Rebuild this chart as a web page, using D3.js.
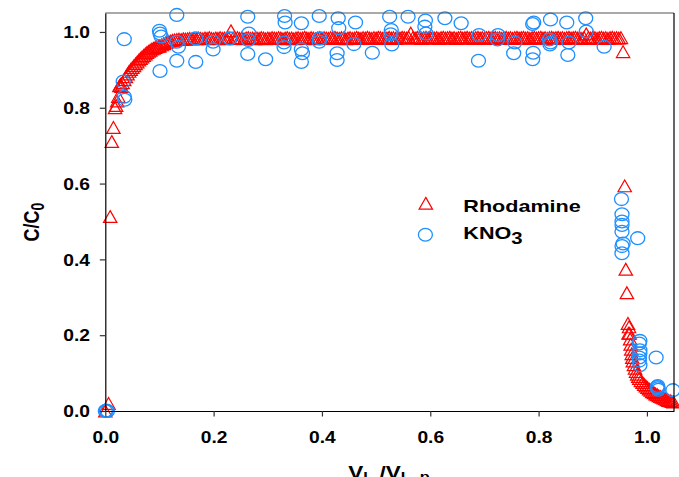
<!DOCTYPE html>
<html>
<head>
<meta charset="utf-8">
<script src="https://cdn.jsdelivr.net/npm/d3@7/dist/d3.min.js"></script>
<style>
  html, body { margin: 0; padding: 0; background: #fff; }
  svg { display: block; }
  text { font-family: "Liberation Sans", Arial, sans-serif; font-weight: bold; fill: #000; }
</style>
</head>
<body>
<svg id="chart" width="679" height="477"></svg>
<script>
// Axis ranges and ticks
const xDomain = [0, 1.05];
const yDomain = [0, 1.05];
const xTicks = [0, 0.2, 0.4, 0.6, 0.8, 1.0];
const yTicks = [0, 0.2, 0.4, 0.6, 0.8, 1.0];

// Series labels
const seriesNames = ["Rhodamine", "KNO3"];

// Rhodamine breakthrough: [V/Vp, C/C0]
const rhodamine = [
  [0.000,0.000],[0.006,0.020],[0.009,0.513],[0.012,0.711],[0.015,0.748],[0.018,0.800],
  [0.020,0.806],[0.022,0.818],[0.024,0.830],[0.026,0.858],[0.028,0.862],[0.030,0.856],
  [0.032,0.866],[0.035,0.874],[0.038,0.882],[0.041,0.889],[0.044,0.896],[0.047,0.901],
  [0.050,0.906],[0.053,0.911],[0.056,0.916],[0.059,0.921],[0.062,0.926],[0.065,0.930],
  [0.068,0.934],[0.071,0.938],[0.074,0.942],[0.077,0.946],[0.080,0.949],[0.083,0.952],
  [0.086,0.955],[0.089,0.957],[0.092,0.959],[0.095,0.961],[0.098,0.962],
  [0.100,0.963],[0.104,0.966],[0.108,0.969],[0.112,0.972],[0.116,0.974],[0.120,0.976],
  [0.124,0.978],[0.128,0.979],[0.132,0.980],[0.136,0.981],[0.140,0.980],[0.144,0.982],[0.148,0.981],[0.152,0.982],[0.156,0.983],[0.160,0.982],
  [0.164,0.983],[0.168,0.982],[0.172,0.984],[0.176,0.983],[0.180,0.982],[0.184,0.984],[0.188,0.983],[0.192,0.985],[0.196,0.983],[0.200,0.982],
  [0.204,0.984],[0.208,0.983],[0.212,0.985],[0.216,0.983],[0.220,0.984],[0.224,0.982],[0.228,0.984],[0.232,1.003],[0.236,0.984],[0.240,0.983],
  [0.244,0.985],[0.248,0.983],[0.252,0.984],[0.256,0.982],[0.260,0.984],[0.264,0.985],[0.268,0.983],[0.272,0.984],[0.276,0.982],[0.280,0.984],
  [0.284,0.983],[0.288,0.985],[0.292,0.984],[0.296,0.982],[0.300,0.984],[0.304,0.983],[0.308,0.985],[0.312,0.984],[0.316,0.983],[0.320,0.985],
  [0.324,0.984],[0.328,0.982],[0.332,0.984],[0.336,0.985],[0.340,0.983],[0.344,0.984],[0.348,0.982],[0.352,0.984],[0.356,0.985],[0.360,0.983],
  [0.364,0.984],[0.368,0.986],[0.372,0.984],[0.376,0.983],[0.380,0.985],[0.384,0.984],[0.388,0.982],[0.392,0.984],[0.396,0.985],[0.400,0.983],
  [0.404,0.985],[0.408,0.984],[0.412,0.983],[0.416,0.985],[0.420,0.984],[0.424,0.986],[0.428,0.984],[0.432,0.983],[0.436,0.985],[0.440,0.984],
  [0.444,0.982],[0.448,0.984],[0.452,0.985],[0.456,0.983],[0.460,0.984],[0.464,0.986],[0.468,0.984],[0.472,0.983],[0.476,0.985],[0.480,0.984],
  [0.484,0.986],[0.488,0.984],[0.492,0.983],[0.496,0.985],[0.500,0.984],[0.504,0.986],[0.508,0.985],[0.512,0.983],[0.516,0.985],[0.520,0.984],
  [0.524,0.986],[0.528,0.984],[0.532,0.985],[0.536,0.983],[0.540,0.985],[0.544,0.984],[0.548,0.986],[0.552,0.985],[0.556,0.984],[0.560,0.986],
  [0.564,0.997],[0.568,0.985],[0.572,0.984],[0.576,0.986],[0.580,0.985],[0.584,0.983],[0.588,0.985],[0.592,0.986],[0.596,0.984],[0.600,0.985],
  [0.604,0.986],[0.608,0.984],[0.612,0.985],[0.616,0.983],[0.620,0.985],[0.624,0.986],[0.628,0.984],[0.632,0.985],[0.636,0.986],[0.640,0.984],
  [0.644,0.985],[0.648,0.983],[0.652,0.985],[0.656,0.986],[0.660,0.984],[0.664,0.985],[0.668,0.986],[0.672,0.984],[0.676,0.985],[0.680,0.983],
  [0.684,0.985],[0.688,0.986],[0.692,0.984],[0.696,0.985],[0.700,0.983],[0.704,0.985],[0.708,0.986],[0.712,0.984],[0.716,0.985],[0.720,0.986],
  [0.724,0.984],[0.728,0.985],[0.732,0.983],[0.736,0.985],[0.740,0.986],[0.744,0.984],[0.748,0.985],[0.752,0.983],[0.756,0.985],[0.760,0.986],
  [0.764,0.984],[0.768,0.985],[0.772,0.986],[0.776,0.984],[0.780,0.985],[0.784,0.983],[0.788,0.985],[0.792,0.986],[0.796,0.984],[0.800,0.985],
  [0.804,0.986],[0.808,0.984],[0.812,0.985],[0.816,0.983],[0.820,0.985],[0.824,0.986],[0.828,0.984],[0.832,0.985],[0.836,0.986],[0.840,0.984],
  [0.844,0.985],[0.848,0.983],[0.852,0.985],[0.856,0.986],[0.860,0.984],[0.864,0.985],[0.868,0.986],[0.872,0.984],[0.876,0.985],[0.880,0.983],
  [0.884,0.985],[0.888,0.995],[0.892,0.985],[0.896,0.984],[0.900,0.986],[0.904,0.985],[0.908,0.983],[0.912,0.985],[0.916,0.986],[0.920,0.984],
  [0.924,0.985],[0.928,0.983],[0.932,0.985],[0.936,0.986],[0.940,0.984],[0.944,0.985],[0.948,0.984],[0.952,0.985],
  [0.956,0.948],[0.959,0.594],[0.961,0.374],[0.963,0.312],[0.965,0.231],[0.966,0.205],[0.967,0.222],
  [0.968,0.205],[0.969,0.190],[0.970,0.176],[0.971,0.163],[0.972,0.151],[0.973,0.141],[0.974,0.132],[0.976,0.122],
  [0.978,0.113],[0.980,0.104],[0.982,0.097],[0.984,0.091],[0.986,0.086],[0.989,0.080],[0.992,0.075],[0.995,0.070],
  [0.998,0.066],[1.001,0.062],[1.004,0.058],[1.007,0.055],[1.010,0.051],[1.013,0.048],[1.016,0.045],[1.019,0.043],
  [1.022,0.040],[1.025,0.038],[1.028,0.036],[1.031,0.034],[1.034,0.032],[1.037,0.030],[1.040,0.028],[1.043,0.027],
  [1.046,0.025],[1.049,0.024]
];

// KNO3 breakthrough: [V/Vp, C/C0]
const kno3 = [
  [0.000,0.000],[0.002,0.001],[0.004,0.000],
  [0.035,0.981],[0.033,0.869],[0.035,0.829],[0.036,0.821],
  [0.100,1.003],[0.101,0.996],[0.103,0.988],[0.101,0.897],
  [0.132,1.045],[0.132,0.974],[0.135,0.961],[0.132,0.924],
  [0.167,0.983],[0.167,0.921],
  [0.199,0.974],[0.199,0.954],
  [0.230,0.983],
  [0.263,1.040],[0.265,0.996],[0.264,0.979],[0.263,0.942],
  [0.296,0.928],
  [0.331,1.042],[0.332,1.025],[0.330,0.972],[0.330,0.960],
  [0.362,1.023],[0.362,0.954],[0.364,0.944],[0.362,0.921],
  [0.395,1.042],[0.396,0.983],[0.395,0.974],
  [0.430,1.036],[0.431,1.010],[0.428,0.944],[0.428,0.926],
  [0.462,1.025],[0.459,0.968],
  [0.493,0.945],
  [0.525,1.040],[0.528,1.005],[0.527,0.994],[0.529,0.967],
  [0.559,1.040],
  [0.591,1.030],[0.590,1.014],[0.592,0.996],
  [0.627,1.036],
  [0.657,1.023],
  [0.690,0.992],[0.689,0.924],
  [0.725,0.992],[0.724,0.980],
  [0.756,0.972],[0.754,0.944],
  [0.789,1.021],[0.791,1.025],[0.790,0.945],[0.789,0.928],
  [0.822,1.033],[0.820,0.980],[0.822,0.972],[0.821,0.967],
  [0.852,1.025],[0.856,0.972],[0.854,0.939],
  [0.887,1.036],[0.888,1.001],
  [0.921,0.961],
  [0.953,0.559],[0.954,0.519],[0.954,0.500],[0.954,0.491],[0.954,0.473],[0.956,0.442],[0.954,0.435],[0.954,0.416],
  [0.983,0.456],
  [0.987,0.185],[0.986,0.178],[0.987,0.160],[0.987,0.152],[0.986,0.141],[0.986,0.133],[0.987,0.121],
  [1.017,0.141],
  [1.020,0.066],[1.020,0.060],[1.021,0.056],[1.019,0.063],
  [1.048,0.055]
];

const W = 679, H = 477;
const plot = { left: 105.3, right: 674, top: 13, bottom: 411 };
const redColor = "#ff0000";
const blueColor = "#1e8fff";

const svg = d3.select("#chart");

const x = d3.scaleLinear().domain(xDomain).range([plot.left, plot.right]);
const y = d3.scaleLinear().domain(yDomain).range([plot.bottom, plot.top]);

// Open triangle, centred on its bounding box
function triPath(hw, hh) {
  return `M0,${-hh}L${hw},${hh}L${-hw},${hh}Z`;
}
const TRI = triPath(6.7, 5.9);

// Markers
const gData = svg.append("g");
gData.selectAll("path.rho")
  .data(rhodamine)
  .join("path")
  .attr("class", "rho")
  .attr("d", TRI)
  .attr("transform", d => `translate(${x(d[0])},${y(d[1])})`)
  .attr("fill", "none")
  .attr("stroke", redColor)
  .attr("stroke-width", 1.2);

gData.selectAll("ellipse.kno")
  .data(kno3)
  .join("ellipse")
  .attr("class", "kno")
  .attr("cx", d => x(d[0]))
  .attr("cy", d => y(d[1]))
  .attr("rx", 7.0)
  .attr("ry", 6.4)
  .attr("fill", "none")
  .attr("stroke", blueColor)
  .attr("stroke-width", 1.3);

// Frame: top edge grey, the rest black
svg.append("line").attr("x1", plot.left).attr("x2", plot.right).attr("y1", plot.top).attr("y2", plot.top)
  .attr("stroke", "#555").attr("stroke-width", 1.2);
svg.append("line").attr("x1", plot.right).attr("x2", plot.right).attr("y1", plot.top).attr("y2", plot.bottom)
  .attr("stroke", "#000").attr("stroke-width", 1.2);

// Axes
const fmt = d3.format(".1f");
const xAxis = d3.axisBottom(x).tickValues(xTicks).tickFormat(fmt).tickSize(5.5).tickSizeOuter(0);
const yAxis = d3.axisLeft(y).tickValues(yTicks).tickFormat(fmt).tickSize(5.5).tickSizeOuter(0);

const gx = svg.append("g").attr("transform", `translate(0,${plot.bottom})`).call(xAxis);
const gy = svg.append("g").attr("transform", `translate(${plot.left},0)`).call(yAxis);

[gx, gy].forEach(g => {
  g.select(".domain").attr("stroke", "#000").attr("stroke-width", 1.2);
  g.selectAll(".tick line").attr("stroke", "#333").attr("stroke-width", 1.2);
  g.selectAll(".tick text")
    .style("font-family", '"Liberation Sans", Arial, sans-serif')
    .style("font-weight", "bold")
    .attr("font-size", 16)
    .attr("fill", "#000");
});
gx.selectAll(".tick text")
  .attr("y", null).attr("dy", null)
  .attr("transform", "translate(0,32.4) scale(1.2,1)");
gy.selectAll(".tick text")
  .attr("x", null).attr("dy", "0.36em")
  .attr("transform", "translate(-15.3,0) scale(1.2,1)");

// Y title: C/C0
const yTitle = svg.append("text")
  .attr("transform", "translate(39,222) scale(1.25,1) rotate(-90)")
  .attr("text-anchor", "middle")
  .attr("font-size", 18);
yTitle.append("tspan").text("C/C");
yTitle.append("tspan").attr("font-size", 14).attr("dy", 4).text("0");

// X title (bottom edge of the figure)
const xTitle = svg.append("text")
  .attr("transform", "translate(389,479) scale(1.25,1)")
  .attr("text-anchor", "middle")
  .attr("font-size", 18);
xTitle.append("tspan").text("V");
xTitle.append("tspan").attr("font-size", 13).attr("dy", 2).text("L");
xTitle.append("tspan").attr("dy", -2).text(" /V");
xTitle.append("tspan").attr("font-size", 13).attr("dy", 2).text("L, p");

// Legend
const legend = svg.append("g");
legend.append("path").attr("d", TRI)
  .attr("transform", "translate(425.8,203.3)")
  .attr("fill", "none").attr("stroke", redColor).attr("stroke-width", 1.2);
legend.append("ellipse").attr("cx", 425.4).attr("cy", 234.8).attr("rx", 7.0).attr("ry", 6.4)
  .attr("fill", "none").attr("stroke", blueColor).attr("stroke-width", 1.3);

legend.append("text")
  .attr("transform", "translate(463.3,212.3) scale(1.27,1)")
  .attr("font-size", 17)
  .text(seriesNames[0]);
const kt = legend.append("text")
  .attr("transform", "translate(463.3,239.3) scale(1.27,1)")
  .attr("font-size", 17);
kt.append("tspan").text("KNO");
kt.append("tspan").attr("font-size", 16).attr("dy", 5).text("3");
</script>
</body>
</html>
